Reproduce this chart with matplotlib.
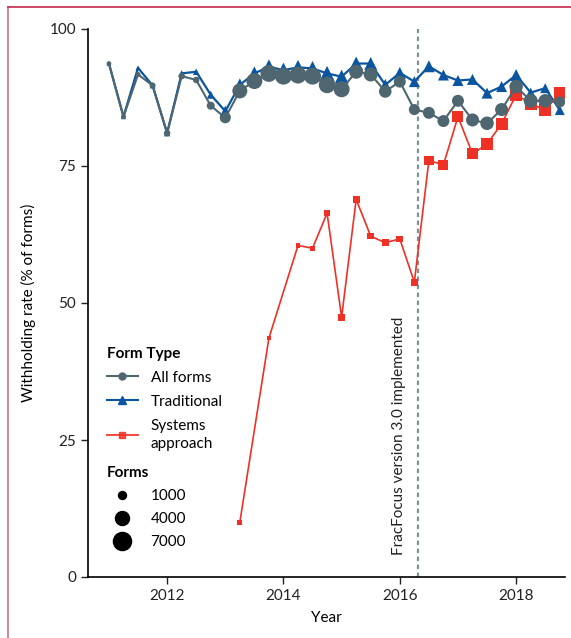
import numpy as np
import matplotlib
matplotlib.use("Agg")
import matplotlib.pyplot as plt
from matplotlib.lines import Line2D

plt.rcParams['font.family'] = ['Lato', 'DejaVu Sans']
FS = 11

# quarterly data, withholding rate (% of forms) and number of forms
quarters = [2011.0, 2011.25, 2011.5, 2011.75, 2012.0, 2012.25, 2012.5, 2012.75,
            2013.0, 2013.25, 2013.5, 2013.75, 2014.0, 2014.25, 2014.5, 2014.75,
            2015.0, 2015.25, 2015.5, 2015.75, 2016.0, 2016.25, 2016.5, 2016.75,
            2017.0, 2017.25, 2017.5, 2017.75, 2018.0, 2018.25, 2018.5, 2018.75]

all_rate = [93.7, 84.0, 91.7, 89.7, 81.0, 91.4, 90.7, 86.0,
            83.8, 88.7, 90.5, 91.9, 91.4, 91.6, 91.4, 89.8,
            89.0, 92.2, 91.7, 88.6, 90.4, 85.3, 84.7, 83.2,
            86.9, 83.4, 82.8, 85.3, 89.5, 86.9, 86.9, 86.7]
all_n = [50, 114, 114, 364, 500, 500, 500, 1000,
         2300, 4650, 5350, 6100, 6100, 6100, 6100, 5800,
         5350, 4000, 4000, 3100, 2800, 2300, 2800, 2800,
         2800, 3400, 3700, 3400, 3700, 4000, 3700, 2300]

trad_rate = [93.7, 84.0, 92.9, 89.7, 81.0, 91.9, 92.2, 88.0,
             85.0, 89.8, 91.9, 93.1, 92.5, 93.0, 92.8, 91.9,
             91.3, 93.7, 93.7, 89.8, 92.0, 90.4, 93.2, 91.6,
             90.6, 90.8, 88.3, 89.5, 91.6, 88.4, 89.2, 85.2]
trad_n = [50, 114, 114, 364, 500, 500, 500, 1000,
          2300, 3400, 4000, 4650, 4650, 4650, 4650, 4650,
          4000, 4000, 3400, 2800, 2800, 2300, 2800, 2300,
          2300, 2300, 2300, 2300, 2800, 1800, 1800, 1800]

sys_quarters = [2013.25, 2013.75, 2014.25, 2014.5, 2014.75, 2015.0, 2015.25,
                2015.5, 2015.75, 2016.0, 2016.25, 2016.5, 2016.75, 2017.0,
                2017.25, 2017.5, 2017.75, 2018.0, 2018.25, 2018.5, 2018.75]
sys_rate = [10.0, 43.6, 60.5, 60.0, 66.4, 47.4, 68.9,
            62.2, 61.0, 61.7, 53.8, 76.0, 75.2, 84.0,
            77.2, 79.0, 82.7, 88.0, 86.4, 85.2, 88.3]
sys_n = [50, 50, 100, 100, 560, 560, 560,
         560, 560, 560, 700, 1800, 1800, 2300,
         2300, 2800, 2800, 2800, 2800, 2800, 2800]

legend_sizes = [1000, 4000, 7000]
fracfocus_date = 2016.31

c_all = '#4e6670'
c_trad = '#0b55a0'
c_sys = '#ee3124'

DPI = 100


def marker_pt(n):
    # diameter in px grows with sqrt of a linear area scale
    d_px = np.sqrt(20 + 0.044 * np.asarray(n, dtype=float))
    return d_px * 72 / DPI


fig = plt.figure(figsize=(5.71, 6.38), dpi=DPI)
ax = fig.add_axes([88 / 571, 1 - 577 / 638, 477 / 571, 548 / 638])

ax.plot(quarters, trad_rate, color=c_trad, lw=1.6, zorder=2)
ax.scatter(quarters, trad_rate, s=marker_pt(trad_n) ** 2, marker='^',
           color=c_trad, linewidths=0, zorder=2)

ax.plot(sys_quarters, sys_rate, color=c_sys, lw=1.2, zorder=3)
ax.scatter(sys_quarters, sys_rate, s=marker_pt(sys_n) ** 2, marker='s',
           color=c_sys, linewidths=0, zorder=3)

ax.plot(quarters, all_rate, color=c_all, lw=1.5, zorder=4)
ax.scatter(quarters, all_rate, s=marker_pt(all_n) ** 2, marker='o',
           color=c_all, linewidths=0, zorder=4)

ax.axvline(fracfocus_date, color='#7f9299', lw=1.6, ls=(0, (2, 1.6)), zorder=1)
ax.text(fracfocus_date - 0.2, 4, 'FracFocus version 3.0 implemented',
        rotation=90, ha='right', va='bottom', fontsize=FS, color='#222222')

ax.set_xlim(2010.64, 2018.84)
ax.set_ylim(0, 100)
ax.set_xticks([2012, 2014, 2016, 2018])
ax.set_yticks([0, 25, 50, 75, 100])
ax.tick_params(direction='out', length=5, width=1, colors='#222222', labelsize=FS)
for s in ['top', 'right']:
    ax.spines[s].set_visible(False)
ax.spines['left'].set_linewidth(1.2)
ax.spines['bottom'].set_linewidth(1.2)
ax.set_xlabel('Year', fontsize=FS, labelpad=6)
ax.set_ylabel('Withholding rate (% of forms)', fontsize=FS, labelpad=10)

# legend: form type
h1 = [Line2D([], [], color=c_all, lw=1.5, marker='o', ms=5),
      Line2D([], [], color=c_trad, lw=1.5, marker='^', ms=6),
      Line2D([], [], color=c_sys, lw=1.5, marker='s', ms=5, alpha=0.85)]
leg1 = ax.legend(h1, ['All forms', 'Traditional', 'Systems\napproach'],
                 title='Form Type', loc='upper left', bbox_to_anchor=(0.04, 0.42),
                 frameon=False, handlelength=2.0, handletextpad=0.85,
                 labelspacing=0.65, borderpad=0, borderaxespad=0,
                 alignment='left', fontsize=FS)
leg1.get_title().set_fontweight('bold')
leg1.get_title().set_fontsize(FS)
for t in leg1.get_texts():
    t.set_linespacing(1.4)
ax.add_artist(leg1)

h2 = [Line2D([], [], color='black', lw=0, marker='o', ms=float(m))
      for m in marker_pt(legend_sizes)]
leg2 = ax.legend(h2, [str(v) for v in legend_sizes], title='Forms',
                 loc='upper left', bbox_to_anchor=(0.04, 0.203),
                 frameon=False, handlelength=2.0, handletextpad=0.85,
                 labelspacing=0.6, borderpad=0, borderaxespad=0,
                 alignment='left', fontsize=FS)
leg2.get_title().set_fontweight('bold')
leg2.get_title().set_fontsize(FS)

# page frame lines
fig.add_artist(Line2D([8 / 571, 8 / 571], [0, 1 - 7 / 638],
                      transform=fig.transFigure, color='#cf6f8c', lw=1.2))
fig.add_artist(Line2D([8 / 571, 1], [1 - 7 / 638, 1 - 7 / 638],
                      transform=fig.transFigure, color='#c42a50', lw=1.2))

fig.savefig('out.png', dpi=DPI)
